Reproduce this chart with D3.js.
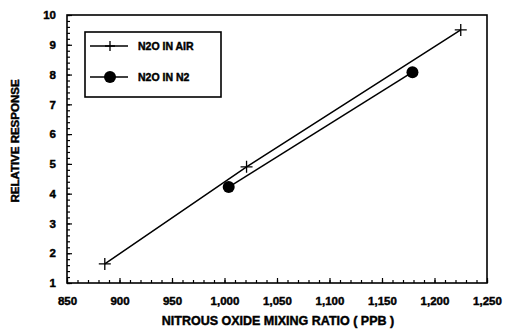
<!DOCTYPE html>
<html>
<head>
<meta charset="utf-8">
<script src="https://cdn.jsdelivr.net/npm/d3@7"></script>
<style>
  html, body { margin: 0; padding: 0; background: #fff; }
  svg { display: block; }
  text { font-family: "Liberation Sans", Arial, sans-serif; font-weight: bold; fill: #000;
         stroke: #000; stroke-width: 0.45px; }
</style>
</head>
<body>
<svg id="chart" width="506" height="330"></svg>
<script>
// Relative detector response vs. N2O mixing ratio, two calibration gases
const airX = [886, 1021, 1225];
const airY = [1.64, 4.9, 9.5];
const n2X = [1004, 1179];
const n2Y = [4.22, 8.08];
const xTicks = [850, 900, 950, 1000, 1050, 1100, 1150, 1200, 1250];
const yTicks = [1, 2, 3, 4, 5, 6, 7, 8, 9, 10];
const seriesNames = ["N2O IN AIR", "N2O IN N2"];

const svg = d3.select("#chart");
const m = { left: 67, right: 487, top: 15, bottom: 283 };

const x = d3.scaleLinear().domain([850, 1250]).range([m.left, m.right]);
const y = d3.scaleLinear().domain([1, 10]).range([m.bottom, m.top]);

// Frame
svg.append("rect")
  .attr("x", m.left).attr("y", m.top)
  .attr("width", m.right - m.left).attr("height", m.bottom - m.top)
  .attr("fill", "none").attr("stroke", "#000").attr("stroke-width", 1.6);

// Bottom axis: major ticks every 50, minor every 10, pointing inward
const xAxis = d3.axisBottom(x).tickValues(xTicks)
  .tickSize(-5).tickPadding(14)
  .tickFormat(d3.format(","));
const gx = svg.append("g").attr("transform", `translate(0,${m.bottom})`).call(xAxis);
gx.select(".domain").remove();
gx.selectAll("text").attr("font-size", 11.5).attr("font-weight", "bold")
  .attr("font-family", "Liberation Sans, Arial, sans-serif");
svg.append("g").attr("transform", `translate(0,${m.bottom})`)
  .call(d3.axisBottom(x).ticks(40).tickSize(-3).tickFormat(""))
  .select(".domain").remove();

// Left axis: major ticks every 1, minor every 0.2, pointing inward
const yAxis = d3.axisLeft(y).tickValues(yTicks)
  .tickSize(-5).tickPadding(11);
const gy = svg.append("g").attr("transform", `translate(${m.left},0)`).call(yAxis);
gy.select(".domain").remove();
gy.selectAll("text").attr("font-size", 11.5).attr("font-weight", "bold")
  .attr("font-family", "Liberation Sans, Arial, sans-serif");
svg.append("g").attr("transform", `translate(${m.left},0)`)
  .call(d3.axisLeft(y).ticks(45).tickSize(-3).tickFormat(""))
  .select(".domain").remove();

svg.selectAll(".tick line").attr("stroke-width", 1.2);

// Axis titles
svg.append("text")
  .attr("x", (m.left + m.right) / 2 + 1).attr("y", 325)
  .attr("text-anchor", "middle").attr("font-size", 12.5)
  .text("NITROUS OXIDE MIXING RATIO ( PPB )");
svg.append("text")
  .attr("transform", "translate(19,141) rotate(-90)")
  .attr("text-anchor", "middle").attr("font-size", 11.5)
  .text("RELATIVE RESPONSE");

// Series lines
const line = d3.line().x(d => x(d[0])).y(d => y(d[1]));
const airPts = airX.map((v, i) => [v, airY[i]]);
const n2Pts = n2X.map((v, i) => [v, n2Y[i]]);
svg.append("path").datum(airPts).attr("d", line)
  .attr("fill", "none").attr("stroke", "#000").attr("stroke-width", 1.5);
svg.append("path").datum(n2Pts).attr("d", line)
  .attr("fill", "none").attr("stroke", "#000").attr("stroke-width", 1.5);

// Markers
function plus(g, cx, cy, s) {
  g.append("path")
    .attr("d", `M${cx - s},${cy}H${cx + s}M${cx},${cy - s}V${cy + s}`)
    .attr("stroke", "#000").attr("stroke-width", 1.3).attr("fill", "none");
}
airPts.forEach(d => plus(svg, x(d[0]), y(d[1]), 6));
svg.selectAll("circle.n2").data(n2Pts).join("circle")
  .attr("class", "n2")
  .attr("cx", d => x(d[0])).attr("cy", d => y(d[1])).attr("r", 6)
  .attr("fill", "#000");

// Legend
const lg = svg.append("g");
lg.append("rect").attr("x", 85).attr("y", 32).attr("width", 136).attr("height", 65)
  .attr("fill", "#fff").attr("stroke", "#000").attr("stroke-width", 1.6);
[46, 77].forEach((ly, i) => {
  lg.append("line").attr("x1", 90).attr("x2", 128).attr("y1", ly).attr("y2", ly)
    .attr("stroke", "#000").attr("stroke-width", 1.3);
  if (i === 0) plus(lg, 110, ly, 5);
  else lg.append("circle").attr("cx", 110).attr("cy", ly).attr("r", 6).attr("fill", "#000");
  lg.append("text").attr("x", 138).attr("y", ly + 4).attr("font-size", 10.5)
    .text(seriesNames[i]);
});
</script>
</body>
</html>
